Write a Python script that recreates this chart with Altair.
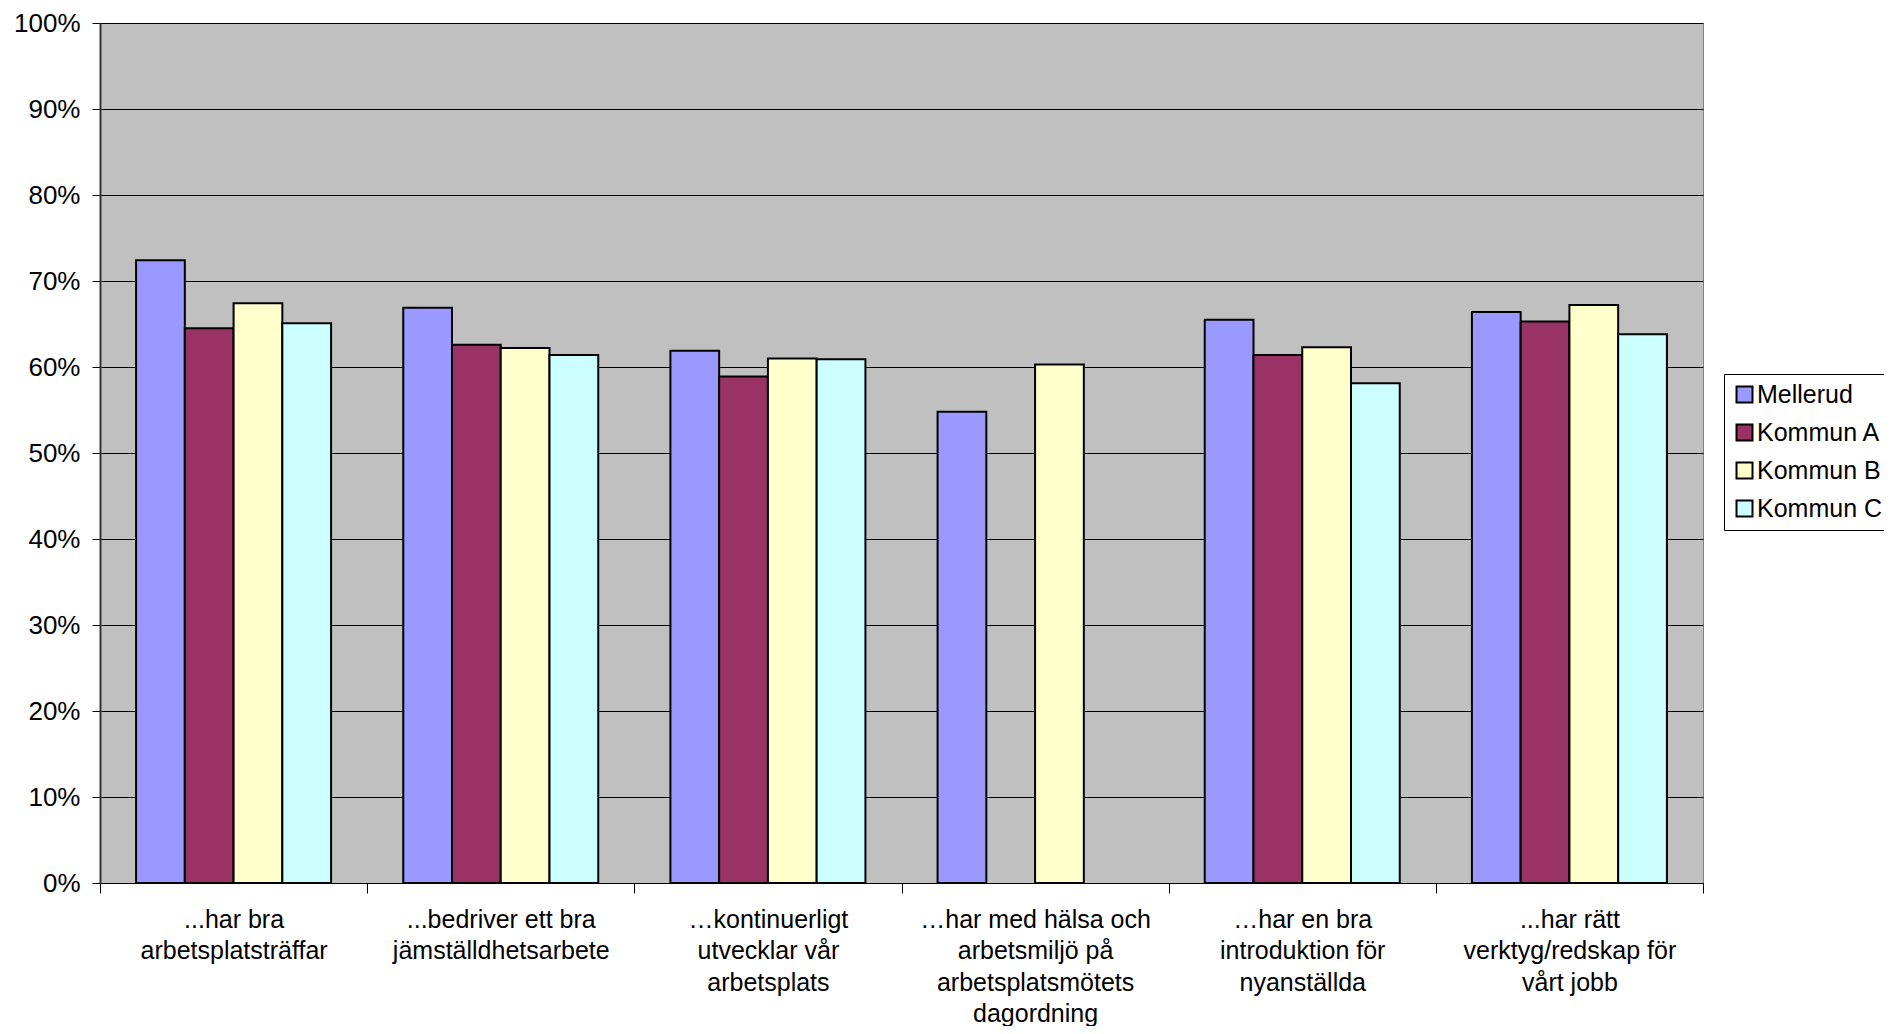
import altair as alt
import pandas as pd

categories = [
    "...har bra|arbetsplatsträffar",
    "...bedriver ett bra|jämställdhetsarbete",
    "…kontinuerligt|utvecklar vår|arbetsplats",
    "…har med hälsa och|arbetsmiljö på|arbetsplatsmötets|dagordning",
    "…har en bra|introduktion för|nyanställda",
    "...har rätt|verktyg/redskap för|vårt jobb",
]
series = ["Mellerud", "Kommun A", "Kommun B", "Kommun C"]
mellerud = [0.724, 0.669, 0.619, 0.548, 0.655, 0.664]
kommun_a = [0.645, 0.626, 0.589, None, 0.614, 0.653]
kommun_b = [0.674, 0.622, 0.610, 0.603, 0.623, 0.672]
kommun_c = [0.651, 0.614, 0.609, None, 0.581, 0.638]
colors = ["#9999FF", "#993366", "#FFFFCC", "#CCFFFF"]

rows = []
for s, vals in zip(series, [mellerud, kommun_a, kommun_b, kommun_c]):
    for c, v in zip(categories, vals):
        if v is not None:
            rows.append({"kategori": c, "serie": s, "andel": v})
df = pd.DataFrame(rows)

FONT = "Liberation Sans"

chart = alt.Chart(df).mark_bar(stroke="black", strokeWidth=2).encode(
    x=alt.X(
        "kategori:N",
        sort=categories,
        scale=alt.Scale(paddingInner=0, paddingOuter=0),
        axis=alt.Axis(
            title=None,
            labelAngle=0,
            labelExpr="split(datum.label, '|')",
            labelFont=FONT,
            labelFontSize=25,
            labelLineHeight=31.5,
            labelColor="black",
            labelBaseline="top",
            labelPadding=14,
            labelOverlap=False,
            labelLimit=400,
            tickBand="extent",
            tickSize=10,
            tickColor="black",
            domainColor="black",
            domainWidth=1,
            grid=False,
        ),
    ),
    xOffset=alt.XOffset("serie:N", sort=series, scale=alt.Scale(paddingInner=0, paddingOuter=0.74)),
    y=alt.Y(
        "andel:Q",
        scale=alt.Scale(domain=[0, 1], nice=False),
        axis=alt.Axis(
            title=None,
            format=".0%",
            values=[i / 10 for i in range(11)],
            labelFont=FONT,
            labelFontSize=26,
            labelColor="black",
            labelPadding=12,
            tickSize=8,
            tickColor="black",
            domainColor="#333333",
            domainWidth=2,
            grid=True,
            gridColor="black",
            gridWidth=1,
            gridOpacity=1,
        ),
    ),
    color=alt.Color(
        "serie:N",
        sort=series,
        scale=alt.Scale(domain=series, range=colors),
        legend=alt.Legend(
            title=None,
            orient="none",
            legendX=1624,
            legendY=351,
            symbolType="square",
            symbolSize=256,
            symbolStrokeColor="black",
            symbolStrokeWidth=2,
            symbolOpacity=1,
            labelFont=FONT,
            labelFontSize=25,
            labelColor="black",
            labelOffset=0,
            rowPadding=12,
            padding=8,
            fillColor="white",
            strokeColor="black",
            labelLimit=300,
        ),
    ),
).properties(
    width=1603,
    height=860,
    background="white",
    autosize=alt.AutoSizeParams(type="none"),
    padding={"left": 92, "top": 15, "right": 181, "bottom": 143},
).configure_view(
    fill="#C0C0C0",
    stroke="#808080",
    strokeWidth=1,
)

chart.save("out.html", embed_options={"renderer": "svg", "actions": False})
